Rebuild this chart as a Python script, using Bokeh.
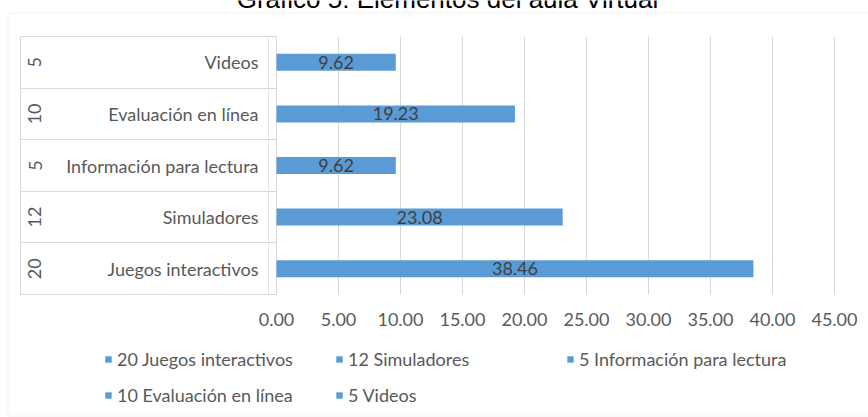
from bokeh.plotting import figure
from bokeh.models import (ColumnDataSource, Range1d, FixedTicker, LinearAxis,
                          NumeralTickFormatter, Legend, LegendItem, Label, BoxAnnotation)
from bokeh.embed import file_html
from bokeh.resources import INLINE
from bokeh.core.properties import value

# ---------------- data ----------------
title_text = "Gráfico 5: Elementos del aula Virtual"
categories = ["Videos", "Evaluación en línea", "Información para lectura",
              "Simuladores", "Juegos interactivos"]
counts = [5, 10, 5, 12, 20]
percents = [9.62, 19.23, 9.62, 23.08, 38.46]
x_ticks = [0, 5, 10, 15, 20, 25, 30, 35, 40, 45]
legend_order = [4, 3, 2, 1, 0]

# ---------------- layout / style ----------------
W, H = 868, 417
PLOT_LEFT, PX_X = 276, 12.4          # pixel of value 0, pixels per unit
PLOT_TOP, PLOT_BOTTOM = 36, 294
n = len(categories)
PX_Y = (PLOT_BOTTOM - PLOT_TOP) / n

FONT = "Lato"
FS = "18px"
GRAY = "#595959"
GRID = "#d9d9d9"
BLUE = "#5B9BD5"


def px_to_x(px):
    return (px - PLOT_LEFT) / PX_X


def px_to_y(py):
    return -0.5 + (PLOT_BOTTOM - py) / PX_Y


ypos = list(range(n))[::-1]                    # top row first
edges = [i - 0.5 for i in range(n + 1)]

source = ColumnDataSource(dict(
    y=ypos,
    cat=categories,
    pct=percents,
    mid=[v / 2 for v in percents],
    lbl=[f"{v:.2f}" for v in percents],
))

p = figure(width=W, height=H,
           x_range=Range1d(px_to_x(0), px_to_x(W)),
           y_range=Range1d(px_to_y(H), px_to_y(0)),
           min_border=0, x_axis_location=None, y_axis_location=None,
           output_backend="svg", toolbar_location=None)
p.title.visible = False
p.outline_line_color = None
p.xgrid.visible = False
p.ygrid.visible = False

# vertical gridlines (as inward ticks of a hidden top axis, behind bars)
gridax = LinearAxis(fixed_location=edges[-1], ticker=FixedTicker(ticks=x_ticks),
                    major_tick_in=int(PLOT_BOTTOM - PLOT_TOP), major_tick_out=0,
                    major_tick_line_color=GRID, minor_tick_line_color=None,
                    axis_line_color=None, major_label_text_alpha=0, level="underlay")
p.add_layout(gridax, "above")

bars = p.hbar(y="y", left=0, right="pct", height=0.33, source=source,
              fill_color=BLUE, line_color=None)
p.text(x="mid", y="y", text="lbl", source=source, text_align="center",
       text_baseline="middle", text_font=value(FONT), text_font_size=FS,
       text_color="#404040")

# x axis
xax = LinearAxis(fixed_location=edges[0], ticker=FixedTicker(ticks=x_ticks),
                 formatter=NumeralTickFormatter(format="0.00"),
                 axis_line_color=None, major_tick_line_color=None,
                 minor_tick_line_color=None, major_label_standoff=12,
                 major_label_text_font=FONT, major_label_text_font_size=FS,
                 major_label_text_color=GRAY)
p.add_layout(xax, "below")

# category names
yax = LinearAxis(fixed_location=0, ticker=FixedTicker(ticks=ypos),
                 major_label_overrides={y: c for y, c in zip(ypos, categories)},
                 axis_line_color=None, major_tick_line_color=None,
                 minor_tick_line_color=None, major_tick_out=0,
                 major_label_standoff=18,
                 major_label_text_font=FONT, major_label_text_font_size=FS,
                 major_label_text_color=GRAY)
p.add_layout(yax, "left")

# row separators of the category table
sep = LinearAxis(fixed_location=0, ticker=FixedTicker(ticks=edges),
                 major_tick_out=256, major_tick_in=0, major_tick_line_color=GRID,
                 minor_tick_line_color=None, axis_line_color=None,
                 major_label_text_alpha=0)
p.add_layout(sep, "left")

# left and right edges of the category table
for edge_px, edge_col in ((20, GRID), (268, "#e6e6e6")):
    p.add_layout(LinearAxis(fixed_location=px_to_x(edge_px), bounds=(edges[0], edges[-1]),
                            ticker=FixedTicker(ticks=[]),
                            major_tick_line_color=None, minor_tick_line_color=None,
                            axis_line_color=edge_col, major_label_text_alpha=0), "left")

# counts (outer category level)
cnt_axis = LinearAxis(fixed_location=0, ticker=FixedTicker(ticks=ypos),
                      major_label_overrides={y: str(c) for y, c in zip(ypos, counts)},
                      major_label_orientation="vertical",
                      major_tick_line_color=None, major_tick_out=0,
                      minor_tick_line_color=None,
                      axis_line_color=None, major_label_standoff=235,
                      major_label_text_font=FONT, major_label_text_font_size=FS,
                      major_label_text_color=GRAY)
p.add_layout(cnt_axis, "left")

# legend
items = [LegendItem(label=f"{counts[i]} {categories[i]}", renderers=[bars], index=i)
         for i in legend_order]
legend = Legend(items=items, location=(104, H - 405.5), orientation="horizontal", ncols=3,
                glyph_width=8, glyph_height=8, label_standoff=5, label_width=204,
                label_height=21, spacing=14, padding=0, margin=0,
                border_line_color=None, background_fill_alpha=0,
                label_text_font=FONT, label_text_font_size=FS, label_text_color=GRAY)
p.add_layout(legend)

# chart border
p.add_layout(BoxAnnotation(left=px_to_x(7.5), right=px_to_x(W + 20),
                           top=px_to_y(12.5), bottom=px_to_y(415.5),
                           fill_alpha=0, line_color=GRID, line_width=1))

# title
p.add_layout(Label(x=px_to_x(447), y=px_to_y(-2), text=title_text,
                   text_font="Liberation Sans", text_font_size="26px",
                   text_align="center", text_baseline="alphabetic", text_color="#000000"))

open("out.html", "w").write(file_html(p, INLINE))
